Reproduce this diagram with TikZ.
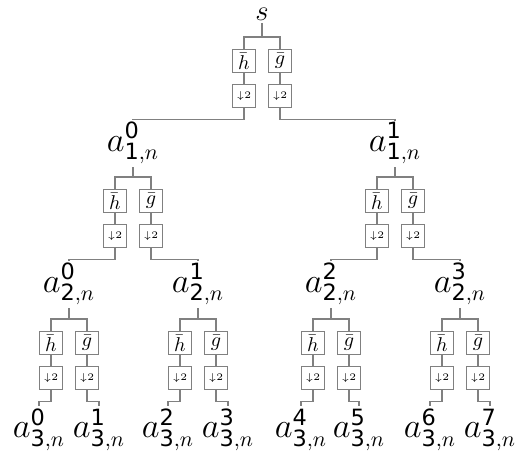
\documentclass[tikz,border=0pt]{standalone}
\usepackage{fontspec}
\setsansfont{DejaVu Sans}
\tikzset{
  ln/.style={draw=gray, line width=0.55pt},
  fbox/.style={draw=gray, line width=0.55pt, inner sep=0pt, minimum size=11.5pt, font=\normalsize},
  lab/.style={inner sep=1.2pt, font=\fontsize{16}{19}\selectfont},
}
\newcommand{\dn}{{\tiny$\downarrow$2}}
\newcommand{\lbl}[2]{$a^{\mathsf{#1}}_{\mathsf{#2},n}$}
% #1 parent, #2 x, #3 y of upper junction, #4 left child, #5 right child
\newcommand{\fbank}[5]{%
  \coordinate (#1j) at (#2,#3);
  \node[fbox] (#1h) at (#2-18,#3+24) {$\bar h$};
  \node[fbox] (#1g) at (#2+18,#3+24) {$\bar g$};
  \node[fbox] (#1hd) at (#2-18,#3+59) {\dn};
  \node[fbox] (#1gd) at (#2+18,#3+59) {\dn};
  \coordinate (#1L) at (#2-18,#3+82.5);
  \coordinate (#1R) at (#2+18,#3+82.5);
  \draw[ln] (#1.south) -- (#1j);
  \draw[ln] (#1h.north) |- (#1j) -| (#1g.north);
  \draw[ln] (#1h) -- (#1hd);
  \draw[ln] (#1g) -- (#1gd);
  \draw[ln] (#1hd.south) -- (#1L) -| (#4.north);
  \draw[ln] (#1gd.south) -- (#1R) -| (#5.north);
}
\begin{document}
\begin{tikzpicture}[x=0.5pt,y=-0.5pt]
\useasboundingbox (0,0) rectangle (527,452);
% labels
\node[lab,anchor=south,font=\Large,inner sep=1pt] (s) at (262,23) {$s$};
\node[lab,anchor=south] (a10) at (133,167) {\lbl{0}{1}};
\node[lab,anchor=south] (a11) at (395,167) {\lbl{1}{1}};
\node[lab,anchor=south] (a20) at (69,308) {\lbl{0}{2}};
\node[lab,anchor=south] (a21) at (198,308) {\lbl{1}{2}};
\node[lab,anchor=south] (a22) at (331,308) {\lbl{2}{2}};
\node[lab,anchor=south] (a23) at (460,308) {\lbl{3}{2}};
\node[lab,anchor=north] (a30) at (39,406) {\lbl{0}{3}};
\node[lab,anchor=north] (a31) at (99,406) {\lbl{1}{3}};
\node[lab,anchor=north] (a32) at (168,406) {\lbl{2}{3}};
\node[lab,anchor=north] (a33) at (228,406) {\lbl{3}{3}};
\node[lab,anchor=north] (a34) at (301,406) {\lbl{4}{3}};
\node[lab,anchor=north] (a35) at (359,406) {\lbl{5}{3}};
\node[lab,anchor=north] (a36) at (430,406) {\lbl{6}{3}};
\node[lab,anchor=north] (a37) at (490,406) {\lbl{7}{3}};
% filter banks
\fbank{s}{262}{37}{a10}{a11}
\fbank{a10}{133}{177}{a20}{a21}
\fbank{a11}{395}{177}{a22}{a23}
\fbank{a20}{69}{319}{a30}{a31}
\fbank{a21}{198}{319}{a32}{a33}
\fbank{a22}{331}{319}{a34}{a35}
\fbank{a23}{460}{319}{a36}{a37}
\end{tikzpicture}
\end{document}
